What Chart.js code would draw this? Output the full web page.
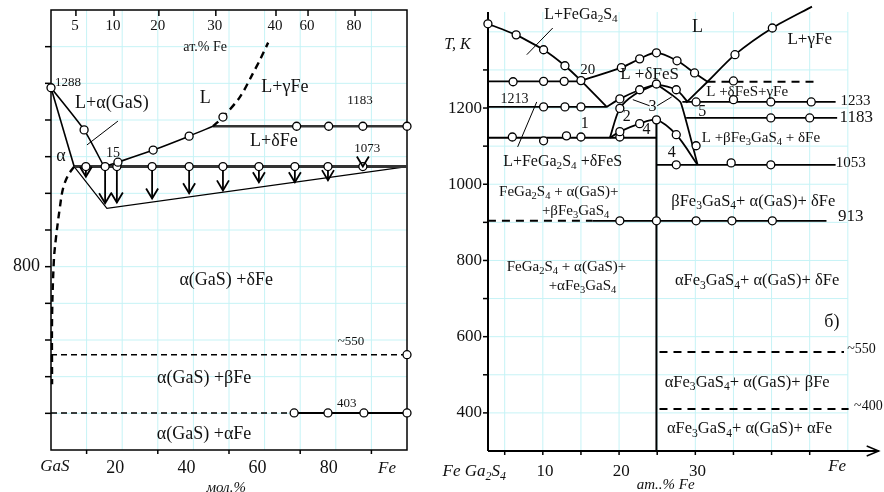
<!DOCTYPE html>
<html>
<head>
<meta charset="utf-8">
<script src="https://cdn.jsdelivr.net/npm/chart.js@4.4.0/dist/chart.umd.min.js"></script>
<style>
html, body { margin: 0; padding: 0; background: #fff; }
#wrap { position: relative; width: 884px; height: 492px; }
#left { position: absolute; left: 0; top: 0; }
#right { position: absolute; left: 440px; top: 0; }
</style>
</head>
<body>
<div id="wrap">
<canvas id="left" width="440" height="492"></canvas>
<canvas id="right" width="444" height="492"></canvas>
</div>
<script>
// ------------- a) GaS - Fe, x = mol.% Fe, y = T, K ------------- //

var T_EUT = 1073;
var liqAlpha = [[0, 1288], [9.3, 1173], [14.9, 1073]];
var liqFe = [[14.9, 1073], [18.8, 1085], [28.7, 1118], [38.8, 1156], [45.5, 1183]];
var liqFeDash = [[45.5, 1183], [48.3, 1208], [53.1, 1263], [56.5, 1323], [58.7, 1364], [61, 1411]];
var liqPts = [[0, 1288], [9.3, 1173], [18.8, 1085], [28.7, 1118], [38.8, 1156], [48.3, 1208]];
var solAlpha = [[0, 1288], [6.5, 1073]];
var solvAlpha = [[6.5, 1073], [4.8, 1049], [3.4, 1014], [2.5, 962], [1.4, 879], [0.8, 816], [0.3, 660], [0.3, 479]];
var line1183 = [[45.5, 1183], [100, 1183]];
var pts1183 = [69, 78, 87.6, 100];
var line1073 = [[6.5, 1073], [100, 1073]];
var arrowX = [9.8, 15.2, 18.5, 28.4, 38.8, 48.3, 58.4, 68.5, 77.8, 87.6];
var arrowTip = [1045, 973, 975, 986, 1000, 1008, 1030, 1030, 1036, 1073];
var wedge = [[6.5, 1073], [15.7, 959], [100, 1073]];
var line550 = [[0, 560], [100, 560]];
var line403dash = [[0, 401], [68.3, 401]];
var line403 = [[68.3, 401], [100, 401]];
var pts403 = [68.3, 77.8, 87.9, 100];
var leaderL = [[18.8, 1197], [10.1, 1132]];

var leftTicksT = [400, 500, 600, 700, 800, 900, 1000, 1100, 1200, 1300, 1400];
var leftBottomTicks = [10, 30, 50, 70, 90];
var leftBottomLabels = [20, 40, 60, 80];
var topAtLabels = [5, 10, 20, 30, 40, 60, 80];
var topAtPos = [7.0, 17.7, 30.3, 46.3, 63.2, 72.2, 85.4];

// ------------- б) FeGa2S4 - Fe, x = at.% Fe, y = T, K ------------- //

var liqFGS = [[2.8, 1421], [6.5, 1392], [10.1, 1353], [12.9, 1311], [15, 1272], [18.4, 1203]];
var eut1270 = [[2.8, 1270], [15, 1270]];
var liqFeS = [[15, 1272], [20.3, 1306], [22.7, 1329], [24.9, 1345], [27.6, 1324], [29.9, 1292], [31.6, 1269]];
var dash1269 = [[31.6, 1269], [45.5, 1269]];
var liqGamma = [[28.8, 1214], [31.6, 1269], [35.2, 1340], [40.1, 1410], [45.3, 1466]];
var line1233 = [[28.3, 1216], [48.4, 1216]];
var line1183r = [[28.8, 1174], [48.6, 1174]];
var line1213 = [[2.8, 1203], [18.4, 1203]];
var line1122 = [[2.8, 1122], [24.9, 1122]];
var curveA = [[18.4, 1203], [20.1, 1224], [22.7, 1248], [24.9, 1263]];
var curveB = [[18.8, 1122], [20.1, 1199], [22, 1235], [24.9, 1263]];
var curveC = [[24.9, 1263], [27.5, 1248], [29, 1216]];
var curveD = [[24.9, 1263], [26.9, 1235], [28.1, 1214], [30.3, 1051]];
var curve4 = [[18.8, 1122], [20.1, 1138], [22.7, 1159], [24.9, 1169], [27.5, 1130], [30.3, 1051]];
var vert25 = [[24.9, 1169], [24.9, 300]];
var line1053 = [[24.9, 1051], [48.4, 1051]];
var line913dash = [[2.8, 904], [16.5, 904]];
var line913 = [[16.5, 904], [47.2, 904]];
var line550r = [[25.3, 560], [49.5, 560]];
var line400r = [[25.3, 410], [50.1, 410]];
var leadersR = [[[11.3, 1410], [7.9, 1340]], [[9.2, 1216], [6.7, 1098]], [[21.8, 1222], [24, 1206]], [[25, 1206], [26.9, 1229]]];
var ptsR = [
    [2.8, 1421], [6.5, 1392], [10.1, 1353], [12.9, 1311], [15, 1272],
    [6.1, 1269], [10.1, 1270], [12.8, 1270],
    [20.3, 1306], [22.7, 1329], [24.9, 1345], [27.6, 1324], [29.9, 1292],
    [35, 1271], [35.2, 1340], [40.1, 1410],
    [30.1, 1216], [35, 1222], [39.9, 1216], [45.2, 1216],
    [39.9, 1174], [45, 1174],
    [10.1, 1203], [12.9, 1203], [15, 1203],
    [6, 1124], [10.1, 1114], [13.1, 1127], [15, 1124], [20.1, 1124],
    [20.1, 1224], [22.7, 1248], [24.9, 1263], [20.1, 1199], [27.5, 1248],
    [20.1, 1138], [22.7, 1159], [24.9, 1169], [27.5, 1130], [30.1, 1101],
    [27.5, 1051], [34.7, 1056], [39.9, 1051],
    [20.1, 904], [24.9, 904], [30.1, 904], [34.8, 904], [40.1, 904]
];
var rightTicksT = [400, 500, 600, 700, 800, 900, 1000, 1100, 1200, 1300];
var rightLabelsT = [400, 600, 800, 1000, 1200];
var rightTicksX = [5, 10, 15, 20, 25, 30, 35, 40, 45];
var rightLabelsX = [10, 20, 30];

// ------------- helpers --------------------------- //

var SERIF = '"Liberation Serif", "Times New Roman", serif';
var GRID = '#c6f3f6';

function seg(pts, o) {
    o = o || {};
    return {
        data: pts.map(function (p) { return { x: p[0], y: p[1] }; }),
        showLine: true, fill: false, pointRadius: 0,
        borderColor: o.color || '#000', borderWidth: o.w || 1.6,
        borderDash: o.dash || [], tension: o.t || 0, order: 2, clip: 12
    };
}

function dots(pts) {
    return {
        data: pts.map(function (p) { return { x: p[0], y: p[1] }; }),
        showLine: false, pointRadius: 4, pointBackgroundColor: '#fff',
        pointBorderColor: '#000', pointBorderWidth: 1.3, order: 0, clip: 12
    };
}

function rich(ctx, str, x, y, size, align, italic) {
    var parts = [], i = 0;
    while (i < str.length) {
        if (str[i] === '_') { parts.push({ t: str[i + 1], sub: true }); i += 2; }
        else {
            var j = i;
            while (j < str.length && str[j] !== '_') j++;
            parts.push({ t: str.slice(i, j), sub: false });
            i = j;
        }
    }
    function font(s) { return (italic ? 'italic ' : '') + s + 'px ' + SERIF; }
    var w = 0;
    parts.forEach(function (p) {
        ctx.font = font(p.sub ? size * 0.7 : size);
        p.w = ctx.measureText(p.t).width;
        w += p.w;
    });
    var sx = align === 'left' ? x : align === 'right' ? x - w : x - w / 2;
    ctx.textAlign = 'left';
    ctx.textBaseline = 'middle';
    ctx.fillStyle = '#111';
    parts.forEach(function (p) {
        ctx.font = font(p.sub ? size * 0.7 : size);
        ctx.fillText(p.t, sx, p.sub ? y + size * 0.28 : y);
        sx += p.w;
    });
}

function P(c, x, y) {
    return [c.scales.x.getPixelForValue(x), c.scales.y.getPixelForValue(y)];
}

function line(ctx, a, b) {
    ctx.beginPath(); ctx.moveTo(a[0], a[1]); ctx.lineTo(b[0], b[1]); ctx.stroke();
}

function baseOptions(pad, xmin, xmax, ymin, ymax) {
    var hidden = { display: false, drawTicks: false, tickLength: 0 };
    return {
        responsive: false, animation: false, devicePixelRatio: 1,
        layout: { padding: pad },
        plugins: { legend: { display: false }, tooltip: { enabled: false } },
        scales: {
            x: { type: 'linear', min: xmin, max: xmax, ticks: { display: false, padding: 0 }, grid: hidden, border: { display: false } },
            y: { type: 'linear', min: ymin, max: ymax, ticks: { display: false, padding: 0 }, grid: hidden, border: { display: false } }
        }
    };
}

// ------------- left chart --------------------------- //

var leftLabels = [
    ['1288', 1.1, 1303, 13, 'left'],
    ['L+α(GaS)', 17.1, 1247, 18],
    ['α', 2.8, 1101, 18],
    ['15', 17.4, 1110, 14],
    ['L', 43.3, 1260, 18],
    ['L+γFe', 65.7, 1290, 18],
    ['1183', 86.8, 1252, 13],
    ['L+δFe', 62.6, 1142, 18],
    ['1073', 88.8, 1123, 13],
    ['α(GaS) +δFe', 49.2, 762, 18],
    ['~550', 84.3, 595, 13],
    ['α(GaS) +βFe', 43, 496, 18],
    ['403', 83.1, 427, 13],
    ['α(GaS) +αFe', 43, 342, 18],
    ['ат.% Fe', 43.3, 1399, 14]
];

var leftDeco = {
    id: 'leftDeco',
    beforeDatasetsDraw: function (c) {
        var ctx = c.ctx, a = c.chartArea;
        ctx.save();
        ctx.strokeStyle = GRID; ctx.lineWidth = 1;
        for (var gx = 10; gx < 100; gx += 10) line(ctx, P(c, gx, 300), P(c, gx, 1500));
        leftTicksT.forEach(function (t) { line(ctx, P(c, 0, t), P(c, 100, t)); });
        ctx.strokeStyle = '#000'; ctx.lineWidth = 1.5;
        ctx.strokeRect(a.left, a.top, a.right - a.left, a.bottom - a.top);
        leftTicksT.forEach(function (t) { var p = P(c, 0, t); line(ctx, [p[0] - 6, p[1]], p); });
        leftBottomTicks.forEach(function (v) { var p = P(c, v, 300); line(ctx, p, [p[0], p[1] + 4]); });
        topAtPos.forEach(function (v) { var p = P(c, v, 1500); line(ctx, p, [p[0], p[1] + 6]); });
        ctx.restore();
    },
    afterDatasetsDraw: function (c) {
        var ctx = c.ctx;
        ctx.save();
        ctx.strokeStyle = '#000'; ctx.lineWidth = 1.8;
        arrowX.forEach(function (x, i) {
            var p = P(c, x, arrowTip[i]);
            ctx.beginPath();
            ctx.moveTo(p[0] - 6, p[1] - 10); ctx.lineTo(p[0], p[1]); ctx.lineTo(p[0] + 6, p[1] - 10);
            ctx.stroke();
        });
        leftLabels.forEach(function (l) {
            var p = P(c, l[1], l[2]);
            rich(ctx, l[0], p[0], p[1], l[3], l[4] || 'center', false);
        });
        topAtLabels.forEach(function (v, i) {
            var p = P(c, topAtPos[i], 1456);
            rich(ctx, String(v), p[0] - 1, p[1], 15, 'center', false);
        });
        leftBottomLabels.forEach(function (v) {
            var p = P(c, v, 251);
            rich(ctx, String(v), p[0] - 7, p[1], 18, 'center', false);
        });
        var p0 = P(c, 1.1, 256); rich(ctx, 'GaS', p0[0], p0[1], 17, 'center', true);
        var p1 = P(c, 94.4, 250); rich(ctx, 'Fe', p1[0], p1[1], 17, 'center', true);
        var p2 = P(c, 49.2, 196); rich(ctx, 'мол.%', p2[0], p2[1], 15, 'center', true);
        var p3 = P(c, 0, 800); rich(ctx, '800', p3[0] - 11, p3[1], 18, 'right', false);
        ctx.restore();
    }
};

var arrowShafts = [];
arrowX.forEach(function (x, i) { arrowShafts.push([x, T_EUT], [x, arrowTip[i]], [x, null]); });

new Chart('left', {
    type: 'scatter',
    data: {
        datasets: [
            dots(liqPts),
            dots(pts1183.map(function (x) { return [x, 1183]; })),
            dots(arrowX.map(function (x) { return [x, T_EUT]; })),
            dots(pts403.map(function (x) { return [x, 401]; })),
            dots([[100, 560]]),
            seg(liqAlpha, { t: 0.2 }),
            seg(liqFe, { t: 0.3 }),
            seg(liqFeDash, { t: 0.3, dash: [7, 5], w: 2.4 }),
            seg(solAlpha),
            seg(solvAlpha, { t: 0.35, dash: [7, 5], w: 2.4 }),
            seg(line1183, { color: '#333', w: 2.4 }),
            seg(line1073, { color: '#333', w: 3 }),
            seg(arrowShafts, { w: 1.8 }),
            seg(wedge, { w: 1.2 }),
            seg(line550, { dash: [6, 4], w: 1.5 }),
            seg(line403dash, { dash: [6, 4], w: 1.5 }),
            seg(line403, { w: 2 }),
            seg(leaderL, { w: 1 })
        ]
    },
    options: baseOptions({ left: 51, right: 33, top: 10, bottom: 42 }, 0, 100, 300, 1500),
    plugins: [leftDeco]
});

// ------------- right chart --------------------------- //

var rightLabels = [
    ['L+FeGa_2S_4', 15, 1445, 16],
    ['20', 15.9, 1300, 15],
    ['L', 30.3, 1413, 18],
    ['L+γFe', 45, 1379, 17],
    ['L +δFeS', 24, 1287, 17],
    ['1213', 6.3, 1224, 14],
    ['1', 15.5, 1158, 16],
    ['2', 21, 1177, 16],
    ['3', 24.4, 1203, 16],
    ['4', 23.6, 1143, 16],
    ['4', 26.9, 1082, 16],
    ['5', 30.9, 1190, 16],
    ['L +δFeS+γFe', 36.8, 1243, 15],
    ['1233', 51, 1219, 15],
    ['1183', 51.1, 1174, 17],
    ['L +βFe_3GaS_4 + δFe', 38.6, 1122, 15],
    ['1053', 50.4, 1056, 15],
    ['L+FeGa_2S_4 +δFeS', 12.6, 1059, 16],
    ['FeGa_2S_4 + α(GaS)+', 12.1, 980, 15],
    ['+βFe_3GaS_4', 14.3, 930, 15],
    ['913', 50.4, 914, 17],
    ['βFe_3GaS_4+ α(GaS)+ δFe', 37.6, 954, 16.5],
    ['FeGa_2S_4 + α(GaS)+', 13.1, 783, 15],
    ['+αFe_3GaS_4', 15.2, 733, 15],
    ['αFe_3GaS_4+ α(GaS)+ δFe', 38.1, 746, 16.5],
    ['б)', 47.9, 639, 18],
    ['~550', 51.8, 568, 14],
    ['αFe_3GaS_4+ α(GaS)+ βFe', 36.8, 479, 16.5],
    ['~400', 52.7, 418, 14],
    ['αFe_3GaS_4+ α(GaS)+ αFe', 37.1, 358, 16.5]
];

var X0 = 2.81, X1 = 54.05, Y0 = 300, Y1 = 1452;

var rightDeco = {
    id: 'rightDeco',
    beforeDatasetsDraw: function (c) {
        var ctx = c.ctx;
        ctx.save();
        ctx.strokeStyle = GRID; ctx.lineWidth = 1;
        for (var gx = 5; gx <= 50; gx += 5) line(ctx, P(c, gx, Y0), P(c, gx, Y1));
        for (var gt = 400; gt <= 1400; gt += 100) line(ctx, P(c, X0, gt), P(c, 50, gt));
        ctx.strokeStyle = '#000'; ctx.lineWidth = 2;
        line(ctx, P(c, X0, Y0), P(c, X0, Y1));
        var b0 = P(c, X0, Y0), b1 = P(c, X1, Y0);
        line(ctx, b0, b1);
        ctx.lineWidth = 1.5;
        ctx.beginPath();
        ctx.moveTo(b1[0] - 12, b1[1] - 5); ctx.lineTo(b1[0], b1[1]); ctx.lineTo(b1[0] - 12, b1[1] + 5);
        ctx.stroke();
        rightTicksT.forEach(function (t) { var p = P(c, X0, t); line(ctx, [p[0] - 5, p[1]], p); });
        rightTicksX.forEach(function (v) { var p = P(c, v, Y0); line(ctx, p, [p[0], p[1] + 4]); });
        ctx.restore();
    },
    afterDatasetsDraw: function (c) {
        var ctx = c.ctx;
        ctx.save();
        rightLabels.forEach(function (l) {
            var p = P(c, l[1], l[2]);
            rich(ctx, l[0], p[0], p[1], l[3], 'center', false);
        });
        rightLabelsT.forEach(function (t) {
            var p = P(c, X0, t);
            rich(ctx, String(t), p[0] - 6, p[1], 17, 'right', false);
        });
        rightLabelsX.forEach(function (v) {
            var p = P(c, v + 0.3, 245);
            rich(ctx, String(v), p[0], p[1], 17, 'center', false);
        });
        var q0 = P(c, -1.2, 1366); rich(ctx, 'T, К', q0[0], q0[1], 16, 'center', true);
        var q1 = P(c, 1, 245); rich(ctx, 'Fe Ga_2S_4', q1[0], q1[1], 17, 'center', true);
        var q2 = P(c, 48.6, 258); rich(ctx, 'Fe', q2[0], q2[1], 17, 'center', true);
        var q3 = P(c, 26.1, 211); rich(ctx, 'am..% Fe', q3[0], q3[1], 15, 'center', true);
        ctx.restore();
    }
};

var rightSets = [
    dots(ptsR),
    seg(liqFGS, { t: 0.15, w: 1.8 }),
    seg(eut1270, { w: 1.8 }),
    seg(liqFeS, { t: 0.35, w: 1.8 }),
    seg(dash1269, { dash: [8, 6], w: 2 }),
    seg(liqGamma, { t: 0.25, w: 1.8 }),
    seg(line1233, { w: 1.8 }),
    seg(line1183r, { w: 1.8 }),
    seg(line1213, { w: 1.8 }),
    seg(line1122, { w: 1.8 }),
    seg(curveA, { t: 0.3, w: 1.8 }),
    seg(curveB, { t: 0.3, w: 1.8 }),
    seg(curveC, { t: 0.3, w: 1.8 }),
    seg(curveD, { t: 0.15, w: 1.8 }),
    seg(curve4, { t: 0.3, w: 1.8 }),
    seg(vert25, { w: 2 }),
    seg(line1053, { w: 1.8 }),
    seg(line913dash, { dash: [8, 6], w: 2 }),
    seg(line913, { w: 1.8 }),
    seg(line550r, { dash: [8, 6], w: 2 }),
    seg(line400r, { dash: [8, 6], w: 2 })
];
leadersR.forEach(function (l) { rightSets.push(seg(l, { w: 1 })); });

new Chart('right', {
    type: 'scatter',
    data: { datasets: rightSets },
    options: baseOptions({ left: 48, right: 4, top: 12, bottom: 41 }, X0, X1, Y0, Y1),
    plugins: [rightDeco]
});
</script>
</body>
</html>
